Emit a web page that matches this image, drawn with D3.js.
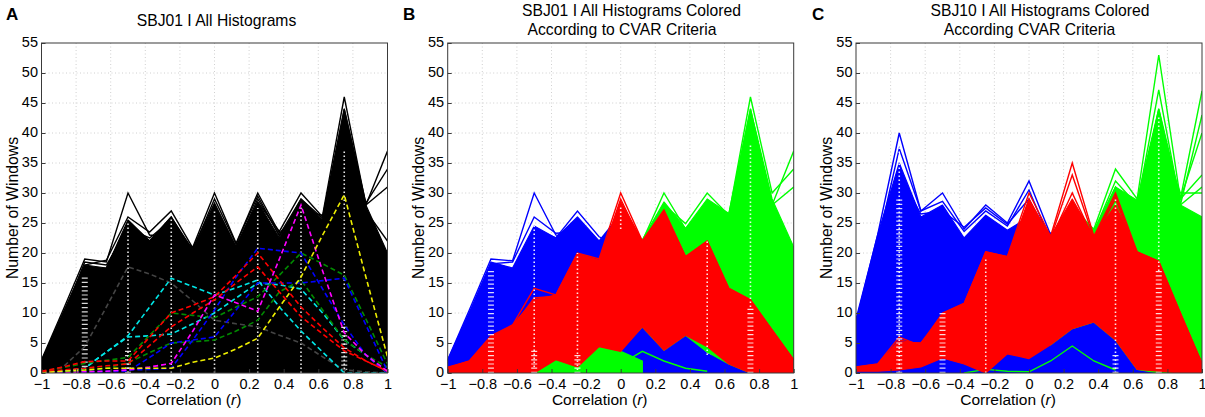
<!DOCTYPE html>
<html>
<head>
<meta charset="utf-8">
<script src="https://cdn.jsdelivr.net/npm/d3@7"></script>
<style>
  body { margin: 0; background: #fff; }
  svg text { font-family: "Liberation Sans", Arial, Helvetica, sans-serif; fill: #000; }
</style>
</head>
<body>
<svg id="fig" width="1205" height="417"></svg>
<script>
var _ = null;

// histogram bin centres and axis ticks
var bins = [-1,-0.875,-0.75,-0.625,-0.5,-0.375,-0.25,-0.125,0,0.125,0.25,0.375,0.5,0.625,0.75,0.875,1];
var xTicks = [-1,-0.8,-0.6,-0.4,-0.2,0,0.2,0.4,0.6,0.8,1];
var yTicks = [0,5,10,15,20,25,30,35,40,45,50,55];
var floor0 = [0,0,0,0,0,0,0,0,0,0,0,0,0,0,0,0,0];

// ---- panel A : SBJ01, all histograms (black) + a few dashed examples
var aBlackTop = [2,10,18,17.5,25.5,22,26,20.5,28,21,28.5,22.5,29,25.5,44,28,20];
var aBlackPeaks = [
  [2.2,10.5,19,18.5,30,23,22.5,21,30,21.6,30,23.3,27,26.3,46,28,37],
  [2,10,18,18.8,26,23.5,27,20.8,28.3,21,28.5,23.6,30,26,44,28.3,34],
  [1.5,9,17,17.5,25,22,26,20,26,21,29,23,29,25.8,42,28,31],
  [1.8,9.5,18.5,18,24,22.5,25.5,20.5,29,21.5,29.5,22.8,28.5,25,38,27,22]
];
var aGray = [0,1,4.4,11,17.7,16.5,15,12,8.8,8.2,7.7,6.3,5,2.7,0.5,0.2,0];
var aCyan = [
  [0,0.3,0.8,3.5,6.2,11,15.8,14.4,13,14.2,15.5,11,7,3.5,0,0,0],
  [0,0.3,0.8,3.5,6,6.2,6.5,8.2,10,12.5,15,14.7,14,10,5.5,3,0]
];
var aGreen = [
  [0.2,0.9,1.6,2.1,2.6,6.3,10,9.6,9.2,11,12.7,16.3,20,18.2,16.3,9,1.5],
  [0,0.2,0.4,0.8,1.7,3.4,5,5.2,5.5,7,8.8,13.5,15.5,10.5,5.5,3,1]
];
var aBlue = [
  [0,0,0.1,0.2,0.3,2.6,5,5.5,6,10.5,15,15,15,15.4,15.8,8,0.3],
  [0,0,0.2,0.3,0.5,0.6,0.8,5.5,10.5,16,20.8,20.4,20,14,8,3,0]
];
var aRed = [
  [0.3,1,1.9,2,2,6,10,11.3,12.7,16.3,20,15.5,11,7.5,4.2,2,0.3],
  [0.2,0.5,0.8,1.2,1.5,4.6,7.7,10,12.2,15,17.7,13.5,9.4,6.5,3.7,2,0.3]
];
var aMagenta = [0,0,0.2,0.3,0.5,1,1.6,7,13,11.7,10.3,19,28,17,6.7,3,0.3];
var aYellow = [0,0.3,0.5,0.8,0.8,0.8,0.8,1.8,2.5,4,5.8,11,16,23,29.7,16,2.7];
var aDots = [[4,0,25],[6,0,26],[8,0,27],[10,0,27.5],[12,0,28],[14,0,37]];
var aHatch = [[2,1,16],[4,0,4],[14,0.5,8]];

// ---- panel B : SBJ01 coloured by CVAR criteria
var bBlueTop = [2.2,10,18.5,17.5,24.5,22.5,26,22,26.5,7.9,5.7,7.1,3.2,2,0.3,0,0];
var bBluePeaks = [
  [2.2,10.5,19,18.7,30,23,22,20,18,7,5,6,3,1.5,0,0,0],
  [2,10,18.2,18.5,26,23.3,23.5,21,20,7,5,6,3,1.5,0,0,0],
  [1.6,9,17,17,24,22.5,27,22.7,21,7,5,6,3,1.5,0,0,0]
];
var bGreenLowTop = [_,_,_,_,0,2.2,1,4.4,3.6,2,_,_,_,_,_,_,_];
var bGreenLowBot = [_,_,_,_,0,0,0,0,0,0,_,_,_,_,_,_,_];
var bGreenTop = [_,_,_,_,_,_,_,_,20,22.2,28.5,24.1,29,26.6,44,29,21];
var bGreenBot = [_,_,_,_,_,_,_,_,4,7.7,3.8,6.3,3.5,1.5,0,0,0];
var bGreenPeaks = [
  [_,_,_,_,_,_,_,_,20,22,30,24,25,26.5,38,28,37],
  [_,_,_,_,_,_,_,_,19,21.5,28,24.9,30,26.3,46,30,34],
  [_,_,_,_,_,_,_,_,18,21,27,24,28,26,44,28,31],
  [_,_,_,_,_,_,_,1,1.5,3.6,2,0.8,0.3,_,_,_,_]
];
var bRedTop = [1,2,6,8,12.2,13,19.9,18.8,28.6,22,27,19.4,22,14.1,12.2,7.2,2.2];
var bRedBot = [0,0,0,0,0,2.2,1,4.4,3.6,7.7,3.8,6.3,4.4,1.5,0,0,0];
var bRedPeaks = [
  [0.8,2,6.2,8,14.1,13,20,19,30,22,27.2,19.4,22,14.1,12.2,7.2,2.2],
  [0.8,1.9,5,7.6,12.5,12.8,19.5,18.5,29,21.5,26.5,19,21.5,13.5,11.6,6.6,2]
];
var bDots = [[4,1,25],[6,0.5,20],[8,24,28],[12,3,22],[14,11,38]];
var bHatch = [[2,0,17],[4,0,4],[6,0,3],[14,0,11]];

// ---- panel C : SBJ10 coloured by CVAR criteria
var cBlueTop = [9,23,35,26,28,22.5,26.3,23.8,26,23.3,7.6,8.6,5.6,0.6,0.5,0.3,0];
var cBluePeaks = [
  [8.5,23,40,27,30,24,28,25,32,23,6,6,4,0.5,0.5,0.3,0],
  [8,21.5,37.4,27,28.6,23.6,27,24.5,30.5,22,6,6,4,0.5,0.5,0.3,0],
  [7,20,33,26.5,27,24.3,27.5,24.8,29,21.5,6,6,4,0.5,0.5,0.3,0]
];
var cGreenTop = [_,_,_,_,_,_,_,_,_,20,28,23.8,31,28.8,44,28,26];
var cGreenBot = [_,_,_,_,_,_,_,_,_,4.7,7.4,8.5,5.5,0.6,0,0,0];
var cGreenPeaks = [
  [_,_,_,_,_,_,_,_,_,_,27,24,34,29,53,29,47],
  [_,_,_,_,_,_,_,_,_,_,26,23.5,32,28,47.2,28,43],
  [_,_,_,_,_,_,_,_,_,_,_,23,31,27,44,29,33],
  [_,_,_,_,_,_,_,_,_,_,_,_,30,28,43.7,28,31],
  [_,_,_,_,_,_,_,_,_,_,_,_,_,28,42,29,40],
  [_,_,_,_,_,_,_,_,_,_,_,_,_,_,40,30,30],
  [_,_,_,_,_,0,0.6,0.3,0.2,2,4.5,2,0.5,_,_,_,_]
];
var cRedTop = [1,1.5,5.2,5,9.9,11.6,20.2,19.4,28.5,22.8,29,22.8,28,20.2,18.6,10,1.6];
var cRedBot = [0.3,0.3,0.5,1,2.5,1.5,0,3.2,2.4,4.7,7.4,8.5,5.5,0.6,0.3,0,0];
var cRedPeaks = [
  [1,1.5,6,4.5,10,11.6,20.2,19.4,30,22.8,35,22.8,30,20.2,18.6,10,1.6],
  [0.8,1.3,5.5,4.8,9.5,11,19.6,19,29,22.5,33,22.5,29.5,19.8,18.2,9.5,1.4],
  [0.6,1.2,5,5,9.2,10.8,19.2,18.8,28.8,22.3,30,22.3,29,19.5,18,9,1.3]
];
var cDots = [[2,0,38],[6,0,19],[12,0,29],[14,17,43]];
var cHatch = [[2,0,29],[4,0,10],[12,0,3],[14,0,17]];

var BLUE = "#0000ff", GREEN = "#00ff00", RED = "#ff0000";

var panels = [
  { left: 41.5, letter: "A", letterX: 6,
    title: ["SBJ01 I All Histograms"], titleX: [216.5], titleY: [26],
    layers: [
      {kind: "mass", top: aBlackTop, bot: floor0, color: "#000"},
      {kind: "lines", rows: aBlackPeaks, color: "#000"},
      {kind: "marks", dots: aDots, hatch: aHatch},
      {kind: "dash", rows: [aGray], color: "#444"},
      {kind: "dash", rows: aCyan, color: "#00e5e5"},
      {kind: "dash", rows: aGreen, color: "#008a00"},
      {kind: "dash", rows: aBlue, color: BLUE},
      {kind: "dash", rows: aRed, color: RED},
      {kind: "dash", rows: [aMagenta], color: "#ff00ff"},
      {kind: "dash", rows: [aYellow], color: "#eeee00"}
    ] },
  { left: 447.7, letter: "B", letterX: 403,
    title: ["SBJ01 I All Histograms Colored", "According to CVAR Criteria"],
    titleX: [631.5, 622], titleY: [16, 34.5],
    layers: [
      {kind: "mass", top: bBlueTop, bot: floor0, color: BLUE},
      {kind: "lines", rows: bBluePeaks, color: BLUE},
      {kind: "mass", top: bGreenLowTop, bot: bGreenLowBot, color: GREEN},
      {kind: "mass", top: bGreenTop, bot: bGreenBot, color: GREEN},
      {kind: "lines", rows: bGreenPeaks, color: GREEN},
      {kind: "mass", top: bRedTop, bot: bRedBot, color: RED},
      {kind: "lines", rows: bRedPeaks, color: RED},
      {kind: "marks", dots: bDots, hatch: bHatch}
    ] },
  { left: 856, letter: "C", letterX: 812,
    title: ["SBJ10 I All Histograms Colored", "According CVAR Criteria"],
    titleX: [1040, 1029.5], titleY: [16, 34.5],
    layers: [
      {kind: "mass", top: cBlueTop, bot: floor0, color: BLUE},
      {kind: "lines", rows: cBluePeaks, color: BLUE},
      {kind: "mass", top: cGreenTop, bot: cGreenBot, color: GREEN},
      {kind: "lines", rows: cGreenPeaks, color: GREEN},
      {kind: "mass", top: cRedTop, bot: cRedBot, color: RED},
      {kind: "lines", rows: cRedPeaks, color: RED},
      {kind: "marks", dots: cDots, hatch: cHatch}
    ] }
];

var svg = d3.select("#fig");
var W = 346, H = 330, TOP = 43;

var x = d3.scaleLinear().domain([-1, 1]).range([0, W]);
var y = d3.scaleLinear().domain([0, 55]).range([H, 0]);

panels.forEach(function(p, pi) {
  var g = svg.append("g").attr("transform", "translate(" + p.left + "," + TOP + ")");

  // dotted grid
  var grid = g.append("g").attr("stroke", "#c4c4c4").attr("stroke-width", 0.8)
      .attr("stroke-dasharray", "1,2.5");
  grid.selectAll(".gx").data(xTicks.slice(1, -1)).enter().append("line")
      .attr("x1", function(d) { return x(d); }).attr("x2", function(d) { return x(d); })
      .attr("y1", 0).attr("y2", H);
  grid.selectAll(".gy").data(yTicks.slice(1, -1)).enter().append("line")
      .attr("y1", function(d) { return y(d); }).attr("y2", function(d) { return y(d); })
      .attr("x1", 0).attr("x2", W);

  svg.append("clipPath").attr("id", "clip" + pi)
    .append("rect").attr("width", W).attr("height", H);
  var plot = g.append("g").attr("clip-path", "url(#clip" + pi + ")");

  function lineOf() {
    return d3.line()
      .defined(function(d) { return d != null; })
      .x(function(d, i) { return x(bins[i]); })
      .y(function(d) { return y(d); });
  }

  p.layers.forEach(function(L) {
    if (L.kind == "mass") {
      var pts = L.top.map(function(t, i) { return {i: i, t: t, b: L.bot[i]}; });
      var area = d3.area()
        .defined(function(d) { return d.t != null; })
        .x(function(d) { return x(bins[d.i]); })
        .y0(function(d) { return y(d.b); })
        .y1(function(d) { return y(d.t); });
      plot.append("path").datum(pts).attr("d", area)
        .attr("fill", L.color).attr("stroke", L.color).attr("stroke-width", 1.2)
        .attr("stroke-linejoin", "round");
    } else if (L.kind == "lines" || L.kind == "dash") {
      plot.append("g").selectAll("path").data(L.rows).enter().append("path")
        .attr("d", lineOf())
        .attr("fill", "none").attr("stroke", L.color)
        .attr("stroke-width", L.kind == "dash" ? 1.6 : 1.4)
        .attr("stroke-dasharray", L.kind == "dash" ? "5,3" : null);
    } else if (L.kind == "marks") {
      var m = plot.append("g").attr("stroke", "#fff");
      m.selectAll(".dot").data(L.dots).enter().append("line")
        .attr("x1", function(d) { return x(bins[d[0]]); })
        .attr("x2", function(d) { return x(bins[d[0]]); })
        .attr("y1", function(d) { return y(d[1]); })
        .attr("y2", function(d) { return y(d[2]); })
        .attr("stroke-width", 1.6).attr("stroke-dasharray", "1.5,2.5")
        .attr("opacity", 0.9);
      m.selectAll(".hatch").data(L.hatch).enter().append("line")
        .attr("x1", function(d) { return x(bins[d[0]]); })
        .attr("x2", function(d) { return x(bins[d[0]]); })
        .attr("y1", function(d) { return y(d[1]); })
        .attr("y2", function(d) { return y(d[2]); })
        .attr("stroke-width", 6).attr("stroke-dasharray", "1.2,3")
        .attr("opacity", 0.85);
    }
  });

  // box
  g.append("rect").attr("width", W).attr("height", H)
    .attr("fill", "none").attr("stroke", "#3a3a3a").attr("stroke-width", 1);

  var xa = g.append("g").attr("transform", "translate(0," + H + ")")
    .call(d3.axisBottom(x).tickValues(xTicks).tickSizeInner(-4).tickSizeOuter(0)
      .tickPadding(6).tickFormat(d3.format("~g")));
  var ya = g.append("g")
    .call(d3.axisLeft(y).tickValues(yTicks).tickSizeInner(-4).tickSizeOuter(0)
      .tickPadding(3.5));
  [xa, ya].forEach(function(a) {
    a.attr("font-size", 14.5).attr("font-family", null);
    a.select(".domain").remove();
    a.selectAll(".tick line").attr("stroke", "#3a3a3a");
    a.selectAll(".tick text").attr("fill", "#000");
  });
  ya.selectAll(".tick text").attr("dy", "0.22em");

  // axis titles
  svg.append("text")
    .attr("transform", "translate(" + (p.left - 24) + "," + (TOP + H / 2) + ") rotate(-90)")
    .attr("text-anchor", "middle").attr("font-size", 15.8)
    .text("Number of Windows");
  var xl = svg.append("text")
    .attr("x", p.left + W / 2 - 21).attr("y", 404.5)
    .attr("text-anchor", "middle").attr("font-size", 15.5);
  xl.append("tspan").text("Correlation (");
  xl.append("tspan").attr("font-style", "italic").text("r");
  xl.append("tspan").text(")");

  // titles and panel letter
  p.title.forEach(function(t, k) {
    svg.append("text").attr("x", p.titleX[k]).attr("y", p.titleY[k])
      .attr("text-anchor", "middle").attr("font-size", 15.7).text(t);
  });
  svg.append("text").attr("x", p.letterX).attr("y", 20)
    .attr("font-size", 17).attr("font-weight", "bold").text(p.letter);
});
</script>
</body>
</html>
